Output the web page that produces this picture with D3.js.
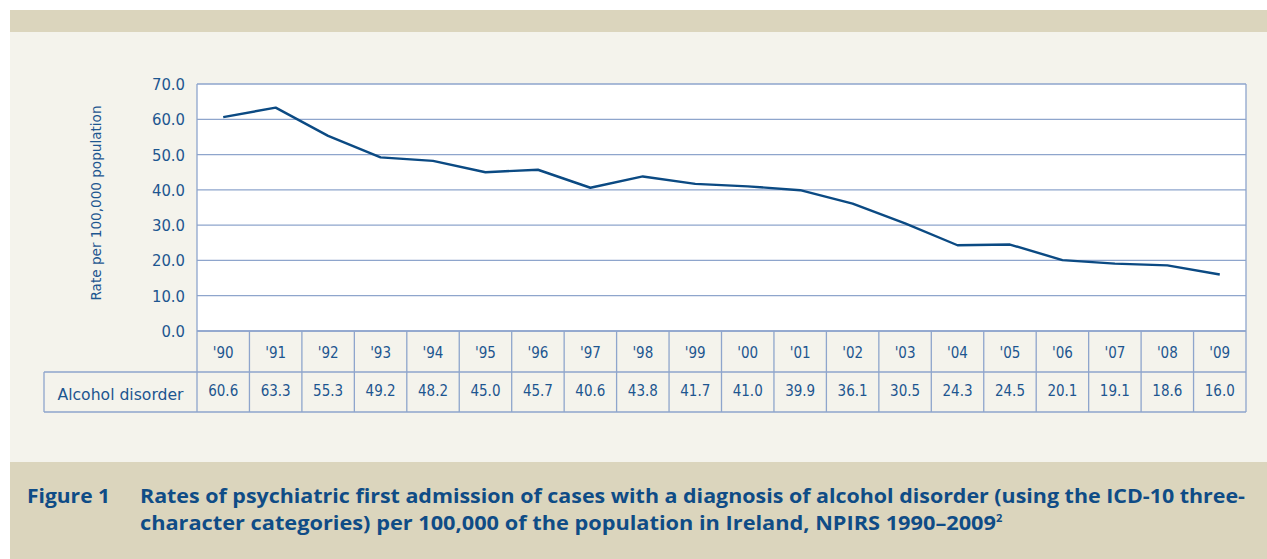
<!DOCTYPE html>
<html>
<head>
<meta charset="utf-8">
<script src="https://cdn.jsdelivr.net/npm/d3@7"></script>
<style>
  body { margin: 0; background: #ffffff; }
  svg { display: block; }
</style>
</head>
<body>
<script>
// chart data
var years = ["'90","'91","'92","'93","'94","'95","'96","'97","'98","'99",
             "'00","'01","'02","'03","'04","'05","'06","'07","'08","'09"];
var rates = [60.6,63.3,55.3,49.2,48.2,45.0,45.7,40.6,43.8,41.7,
             41.0,39.9,36.1,30.5,24.3,24.5,20.1,19.1,18.6,16.0];
var yTicks = [0,10,20,30,40,50,60,70];
var seriesName = "Alcohol disorder";
var yTitle = "Rate per 100,000 population";
var captionLabel = "Figure 1";
var captionLines = ["Rates of psychiatric first admission of cases with a diagnosis of alcohol disorder (using the ICD-10 three-",
                    "character categories) per 100,000 of the population in Ireland, NPIRS 1990\u20132009"];

var W = 1267, H = 559;
var textCol = "#1d5690";
var gridCol = "#8ea5cc";
var lineCol = "#0b4a83";
var font = "'DejaVu Sans Condensed', 'DejaVu Sans', sans-serif";

var svg = d3.select("body").append("svg")
    .attr("width", W).attr("height", H);

// background panels
svg.append("rect").attr("x",10).attr("y",10).attr("width",W-10).attr("height",22).attr("fill","#dbd5bd");
svg.append("rect").attr("x",10).attr("y",32).attr("width",W-10).attr("height",430).attr("fill","#f4f3ec");
svg.append("rect").attr("x",10).attr("y",462).attr("width",W-10).attr("height",H-462).attr("fill","#dbd5bd");

var pLeft = 197, pRight = 1246, pTop = 84, pBottom = 331;
var x = d3.scaleBand().domain(years).range([pLeft, pRight]);
var y = d3.scaleLinear().domain([0,70]).range([pBottom, pTop]);

// plot area
svg.append("rect").attr("x",pLeft).attr("y",pTop).attr("width",pRight-pLeft).attr("height",pBottom-pTop)
   .attr("fill","#ffffff");

// grid lines
svg.selectAll("line.grid").data(yTicks).enter().append("line")
   .attr("class","grid")
   .attr("x1",pLeft).attr("x2",pRight)
   .attr("y1",function(d){return y(d);}).attr("y2",function(d){return y(d);})
   .attr("stroke",gridCol).attr("stroke-width",1.3);
svg.append("line").attr("x1",pLeft).attr("x2",pLeft).attr("y1",pTop).attr("y2",pBottom)
   .attr("stroke",gridCol).attr("stroke-width",1.3);
svg.append("line").attr("x1",pRight).attr("x2",pRight).attr("y1",pTop).attr("y2",pBottom)
   .attr("stroke",gridCol).attr("stroke-width",1.3);

// y tick labels
svg.selectAll("text.ytick").data(yTicks).enter().append("text")
   .attr("class","ytick")
   .attr("x",185).attr("y",function(d){return y(d)+6;})
   .attr("text-anchor","end")
   .attr("font-family",font).attr("font-size",16.5).attr("fill",textCol)
   .text(function(d){return d.toFixed(1);});

// y title
svg.append("text")
   .attr("transform","translate(101,203) rotate(-90)")
   .attr("text-anchor","middle")
   .attr("font-family",font).attr("font-size",14).attr("fill",textCol)
   .attr("textLength",195).attr("lengthAdjust","spacingAndGlyphs")
   .text(yTitle);

// data line
var line = d3.line()
    .x(function(d,i){return x(years[i]) + x.bandwidth()/2;})
    .y(function(d){return y(d);});
svg.append("path").datum(rates)
   .attr("d",line).attr("fill","none")
   .attr("stroke",lineCol).attr("stroke-width",2.4).attr("stroke-linejoin","round");

// table
var rowTop = 331, rowMid = 372, rowBot = 412, tableLeft = 44;
var tbl = svg.append("g");
tbl.append("line").attr("x1",pLeft).attr("x2",pRight).attr("y1",rowTop).attr("y2",rowTop);
tbl.append("line").attr("x1",tableLeft).attr("x2",pRight).attr("y1",rowMid).attr("y2",rowMid);
tbl.append("line").attr("x1",tableLeft).attr("x2",pRight).attr("y1",rowBot).attr("y2",rowBot);
tbl.append("line").attr("x1",tableLeft).attr("x2",tableLeft).attr("y1",rowMid).attr("y2",rowBot);
tbl.selectAll("line.col").data(years).enter().append("line")
   .attr("class","col")
   .attr("x1",function(d){return x(d);}).attr("x2",function(d){return x(d);})
   .attr("y1",rowTop).attr("y2",rowBot);
tbl.append("line").attr("x1",pRight).attr("x2",pRight).attr("y1",rowTop).attr("y2",rowBot);
tbl.selectAll("line").attr("stroke",gridCol).attr("stroke-width",1.3);

svg.selectAll("text.year").data(years).enter().append("text")
   .attr("class","year")
   .attr("x",function(d){return x(d)+x.bandwidth()/2;}).attr("y",358)
   .attr("text-anchor","middle")
   .attr("font-family",font).attr("font-size",15).attr("fill",textCol)
   .text(function(d){return d;});

svg.selectAll("text.val").data(rates).enter().append("text")
   .attr("class","val")
   .attr("x",function(d,i){return x(years[i])+x.bandwidth()/2;}).attr("y",396)
   .attr("text-anchor","middle")
   .attr("font-family",font).attr("font-size",15).attr("fill",textCol)
   .text(function(d){return d.toFixed(1);});

svg.append("text")
   .attr("x",(tableLeft+pLeft)/2).attr("y",400)
   .attr("text-anchor","middle")
   .attr("font-family",font).attr("font-size",15.5).attr("fill",textCol)
   .attr("textLength",126).attr("lengthAdjust","spacingAndGlyphs")
   .text(seriesName);

// caption
var capFont = "'Open Sans', sans-serif";
var capCol = "#0f4c86";
svg.append("text")
   .attr("x",27).attr("y",503)
   .attr("font-family",capFont).attr("font-weight","bold").attr("font-size",19).attr("fill",capCol)
   .attr("textLength",83).attr("lengthAdjust","spacingAndGlyphs")
   .text(captionLabel);
svg.append("text")
   .attr("x",140).attr("y",503)
   .attr("font-family",capFont).attr("font-weight","bold").attr("font-size",19).attr("fill",capCol)
   .attr("textLength",1105).attr("lengthAdjust","spacingAndGlyphs")
   .text(captionLines[0]);
var l2 = svg.append("text")
   .attr("x",140).attr("y",530)
   .attr("font-family",capFont).attr("font-weight","bold").attr("font-size",19).attr("fill",capCol);
l2.append("tspan").attr("textLength",856).attr("lengthAdjust","spacingAndGlyphs").text(captionLines[1]);
l2.append("tspan").attr("font-size",11).attr("dy",-8).text("2");
</script>
</body>
</html>
